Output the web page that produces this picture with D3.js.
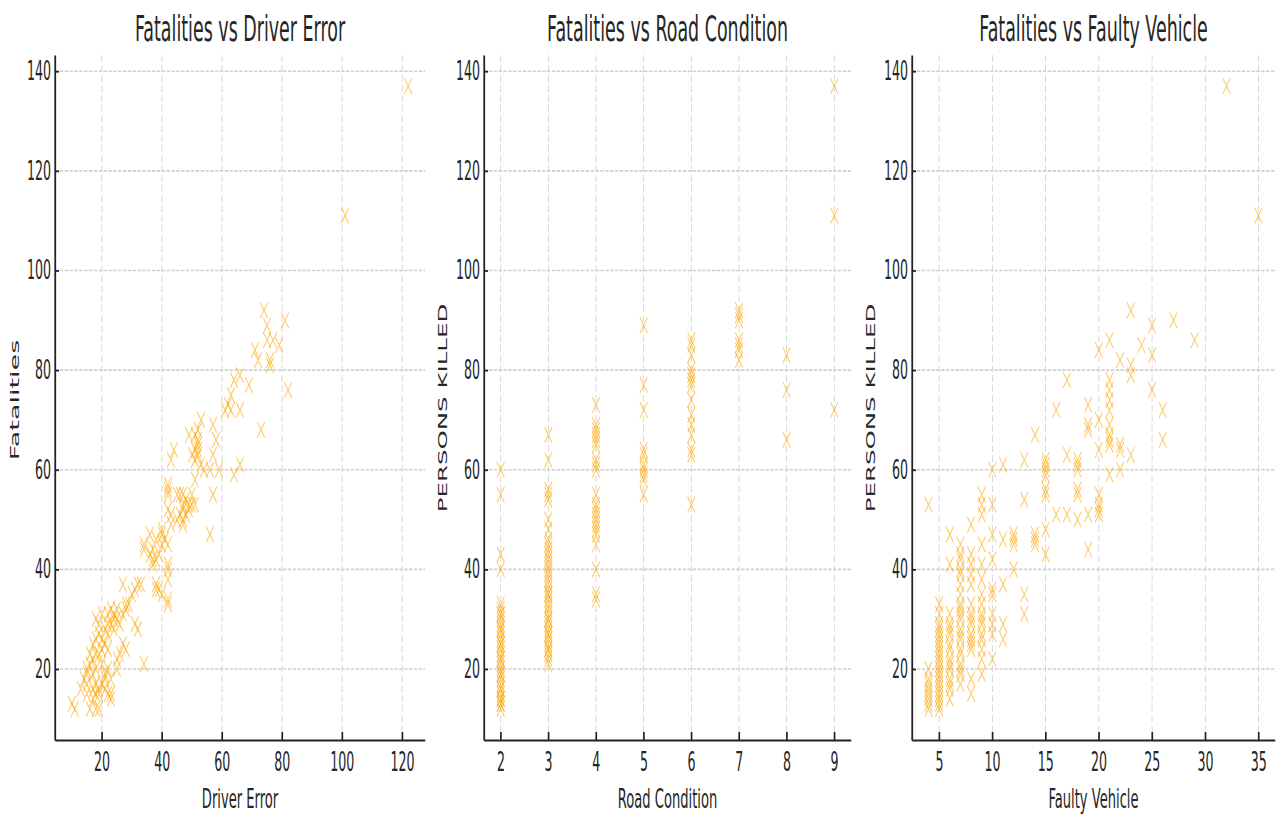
<!DOCTYPE html>
<html><head><meta charset="utf-8">
<script src="https://cdn.jsdelivr.net/npm/d3@7"></script>
<style>html,body{margin:0;padding:0;background:#fff;overflow:hidden}</style>
</head><body>
<svg id="chart"></svg>
<script>
// ---------- data ----------
const titles = ["Fatalities vs Driver Error", "Fatalities vs Road Condition", "Fatalities vs Faulty Vehicle"];
const xLabels = ["Driver Error", "Road Condition", "Faulty Vehicle"];
const yLabels = ["Fatalities", "PERSONS KILLED", "PERSONS KILLED"];
const xTicks = [[20, 40, 60, 80, 100, 120], [2, 3, 4, 5, 6, 7, 8, 9], [5, 10, 15, 20, 25, 30, 35]];
const yTicks = [20, 40, 60, 80, 100, 120, 140];

// [driver error, fatalities]
const driverErrorPoints = [
  [122,137],[101,111],
  [74,92],[81,90],[75,89],[75,86],[77,86],[79,85],[71,84],[72,82],[76,82],[76,81],[64,78],[66,79],[69,77],[82,76],
  [63,75],[62,73],[61,72],[63,72],[66,72],[53,70],[57,69],[49,67],[51,67],[52,68],[73,68],[52,66],[52,65],[52,64],
  [51,64],[58,66],[44,64],[43,62],[50,63],[52,63],[57,63],[51,62],[53,61],[54,60],[56,60],[59,60],[66,61],[64,59],[51,58],
  [56,47],
  [42,57],[42,55],[42,52],[45,55],[47,55],[48,54],[50,55],[49,53],[51,53],[57,55],[47,52],[48,51],[45,50],[47,50],
  [49,52],[42,56],[43,51],[43,49],[46,51],[47,49],[46,55],[47,53],[50,53],
  [36,47],[40,48],[41,46],[42,45],[34,45],[34,44],[36,43],[38,46],[40,47],[37,44],[40,45],
  [37,42],[37,41],[38,42],[39,43],[42,41],[42,40],[42,38],[38,37],[39,36],[40,35],[42,34],[42,33],[38,36],
  [33,37],[31,36],[30,35],[32,37],[27,37],[29,33],[28,32],[27,31],[31,29],[32,28],[28,33],[25,32],[24,31],[23,32],[22,31],[20,31],
  [27,25],[28,24],[26,23],[25,22],[25,20],[34,21],
  [18,30],[19,29],[23,29],[24,28],[22,27],[19,27],[18,26],[20,26],[21,28],[22,29],[24,30],[25,30],[26,29],[21,25],[22,24],
  [17,25],[18,23],[17,22],[20,24],[19,23],[20,21],[18,20],[16,21],[15,19],[17,19],[16,23],[15,20],
  [14,18],[15,17],[17,16],[18,17],[19,16],[19,15],[18,15],[17,14],[15,15],[13,16],[11,12],[18,12],[19,12],[16,12],
  [10,13],[23,15],[23,14],[21,18],[23,18],[22,15],[21,19],[22,20],[20,17],[21,16]
];

// [road condition, persons killed]
const roadConditionPoints = [
  [2,60],[2,55],[2,43],[2,40],[2,33],[2,32],[2,31],[2,30],[2,29],[2,28],[2,27],[2,26],[2,25],[2,24],[2,23],[2,22],
  [2,21],[2,20],[2,19],[2,18],[2,17],[2,16],[2,15],[2,14],[2,13],[2,12],[2,31],[2,28],[2,25],[2,22],[2,19],[2,16],[2,14],[2,13],
  [3,67],[3,62],[3,56],[3,55],[3,54],[3,50],[3,48],[3,46],[3,45],[3,44],[3,43],[3,42],[3,41],[3,40],[3,39],[3,38],
  [3,37],[3,36],[3,35],[3,34],[3,33],[3,32],[3,31],[3,30],[3,29],[3,28],[3,27],[3,26],[3,25],[3,24],[3,23],[3,22],
  [3,21],[3,35],[3,30],[3,27],[3,24],
  [4,73],[4,69],[4,68],[4,67],[4,66],[4,65],[4,62],[4,61],[4,60],[4,55],[4,53],[4,52],[4,51],[4,50],[4,49],[4,48],
  [4,47],[4,45],[4,40],[4,35],[4,34],
  [5,89],[5,77],[5,72],[5,64],[5,63],[5,61],[5,60],[5,59],[5,58],[5,55],
  [6,86],[6,85],[6,83],[6,80],[6,79],[6,78],[6,77],[6,74],[6,71],[6,69],[6,67],[6,64],[6,63],[6,53],
  [7,92],[7,91],[7,90],[7,86],[7,85],[7,84],[7,82],
  [8,83],[8,76],[8,66],
  [9,137],[9,111],[9,72]
];

// [faulty vehicle, persons killed]
const faultyVehiclePoints = [
  [4,53],[4,20],[4,18],[4,17],[4,16],[4,15],[4,14],[4,13],[4,12],
  [5,33],[5,31],[5,29],[5,28],[5,27],[5,26],[5,25],[5,24],[5,23],[5,22],[5,21],[5,20],[5,19],[5,18],[5,17],[5,16],[5,15],[5,14],[5,13],[5,12],
  [6,47],[6,41],[6,31],[6,29],[6,28],[6,27],[6,25],[6,24],[6,22],[6,21],[6,20],[6,18],[6,17],[6,16],[6,14],
  [7,45],[7,43],[7,42],[7,40],[7,39],[7,37],[7,35],[7,33],[7,32],[7,31],[7,30],[7,28],[7,27],[7,26],[7,24],[7,23],[7,21],[7,20],[7,19],[7,17],
  [8,49],[8,43],[8,41],[8,39],[8,37],[8,33],[8,31],[8,30],[8,29],[8,27],[8,26],[8,25],[8,24],[8,18],[8,15],
  [9,55],[9,53],[9,51],[9,45],[9,41],[9,38],[9,35],[9,33],[9,31],[9,30],[9,29],[9,27],[9,26],[9,24],[9,22],[9,19],
  [10,60],[10,53],[10,47],[10,42],[10,36],[10,35],[10,31],[10,29],[10,27],[10,22],
  [11,61],[11,46],[11,37],[11,29],[11,26],
  [12,47],[12,46],[12,45],[12,40],
  [13,62],[13,54],[13,35],[13,31],
  [14,67],[14,47],[14,46],[14,45],
  [15,62],[15,61],[15,60],[15,59],[15,56],[15,55],[15,48],[15,43],
  [16,72],[16,51],
  [17,78],[17,63],[17,51],
  [18,62],[18,61],[18,60],[18,56],[18,55],[18,50],
  [19,73],[19,69],[19,68],[19,51],[19,44],
  [20,84],[20,70],[20,64],[20,55],[20,53],[20,52],[20,51],
  [21,86],[21,78],[21,76],[21,74],[21,72],[21,69],[21,67],[21,66],[21,65],[21,59],
  [22,82],[22,65],[22,64],[22,60],
  [23,92],[23,81],[23,79],[23,63],
  [24,85],
  [25,89],[25,83],[25,76],
  [26,72],[26,66],
  [27,90],[29,86],[32,137],[35,111]
];

const panelsData = [driverErrorPoints, roadConditionPoints, faultyVehiclePoints];

// ---------- layout ----------
const S = 0.485;               // horizontal compression of the picture
const VW = 1284 / S;
const V = px => px / S;
const panelX = [[55, 425], [484, 851], [912, 1275]];
const TOP = 55, BOTTOM = 740;
const FONT = "'DejaVu Sans', sans-serif";
const TXT = "#262626";

const svg = d3.select("#chart")
  .attr("width", 1284).attr("height", 814)
  .attr("viewBox", `0 0 ${VW} 814`)
  .attr("preserveAspectRatio", "none");

const pad = ([a, b]) => [a - 0.05 * (b - a), b + 0.05 * (b - a)];
const allY = panelsData.flatMap(p => p.map(d => d[1]));
const yScale = d3.scaleLinear().domain(pad(d3.extent(allY))).range([BOTTOM, TOP]);
const marker = d3.symbol().type(d3.symbolTimes).size(160)();

panelsData.forEach((pts, i) => {
  const [l, r] = panelX[i];
  const x = d3.scaleLinear().domain(pad(d3.extent(pts, d => d[0]))).range([V(l), V(r)]);
  const g = svg.append("g");

  // grid
  g.append("g").selectAll("line").data(xTicks[i]).join("line")
    .attr("x1", d => x(d)).attr("x2", d => x(d)).attr("y1", TOP).attr("y2", BOTTOM)
    .attr("stroke", "#cfcfcf").attr("stroke-width", 1.6).attr("stroke-dasharray", "7,3");
  g.append("g").selectAll("line").data(yTicks).join("line")
    .attr("x1", V(l)).attr("x2", V(r)).attr("y1", d => yScale(d)).attr("y2", d => yScale(d))
    .attr("stroke", "#cfcfcf").attr("stroke-width", 1.6).attr("stroke-dasharray", "7,3");

  // points
  g.append("g").selectAll("path").data(pts).join("path")
    .attr("d", marker)
    .attr("transform", d => `translate(${x(d[0])},${yScale(d[1])})`)
    .attr("fill", "none").attr("stroke", "#FFA500").attr("stroke-opacity", 0.6).attr("stroke-width", 1.7);

  // axes
  const xa = g.append("g").attr("transform", `translate(0,${BOTTOM})`)
    .call(d3.axisBottom(x).tickValues(xTicks[i]).tickSizeInner(-8).tickSizeOuter(0).tickPadding(13));
  xa.select(".domain").attr("stroke", "#222").attr("stroke-width", 1.8);
  xa.selectAll(".tick line").attr("stroke", "#222").attr("stroke-width", 3.5);
  xa.selectAll("text").attr("font-family", FONT).attr("font-size", 26).attr("fill", TXT);

  const ya = g.append("g").attr("transform", `translate(${V(l)},0)`)
    .call(d3.axisLeft(yScale).tickValues(yTicks).tickSizeInner(-8.2).tickSizeOuter(0).tickPadding(8));
  ya.select(".domain").attr("stroke", "#222").attr("stroke-width", 3.7);
  ya.selectAll(".tick line").attr("stroke", "#222").attr("stroke-width", 1.8);
  ya.selectAll("text").attr("font-family", FONT).attr("font-size", 26).attr("fill", TXT);

  // title & labels
  g.append("text").attr("x", V((l + r) / 2)).attr("y", 41).attr("text-anchor", "middle")
    .attr("font-family", FONT).attr("font-size", 36).attr("fill", TXT).text(titles[i]);
  g.append("text").attr("x", V((l + r) / 2)).attr("y", 808).attr("text-anchor", "middle")
    .attr("font-family", FONT).attr("font-size", 27).attr("fill", TXT).text(xLabels[i]);
  const yl = [14, 443, 871][i];
  const yc = i === 0 ? 400 : 408;
  g.append("text").attr("transform", `translate(${V(yl)},${yc}) rotate(-90)`)
    .attr("dy", "0.36em").attr("text-anchor", "middle")
    .attr("font-family", FONT).attr("font-size", i === 0 ? 27 : 24.5).attr("fill", TXT).text(yLabels[i]);
});
</script>
</body></html>
